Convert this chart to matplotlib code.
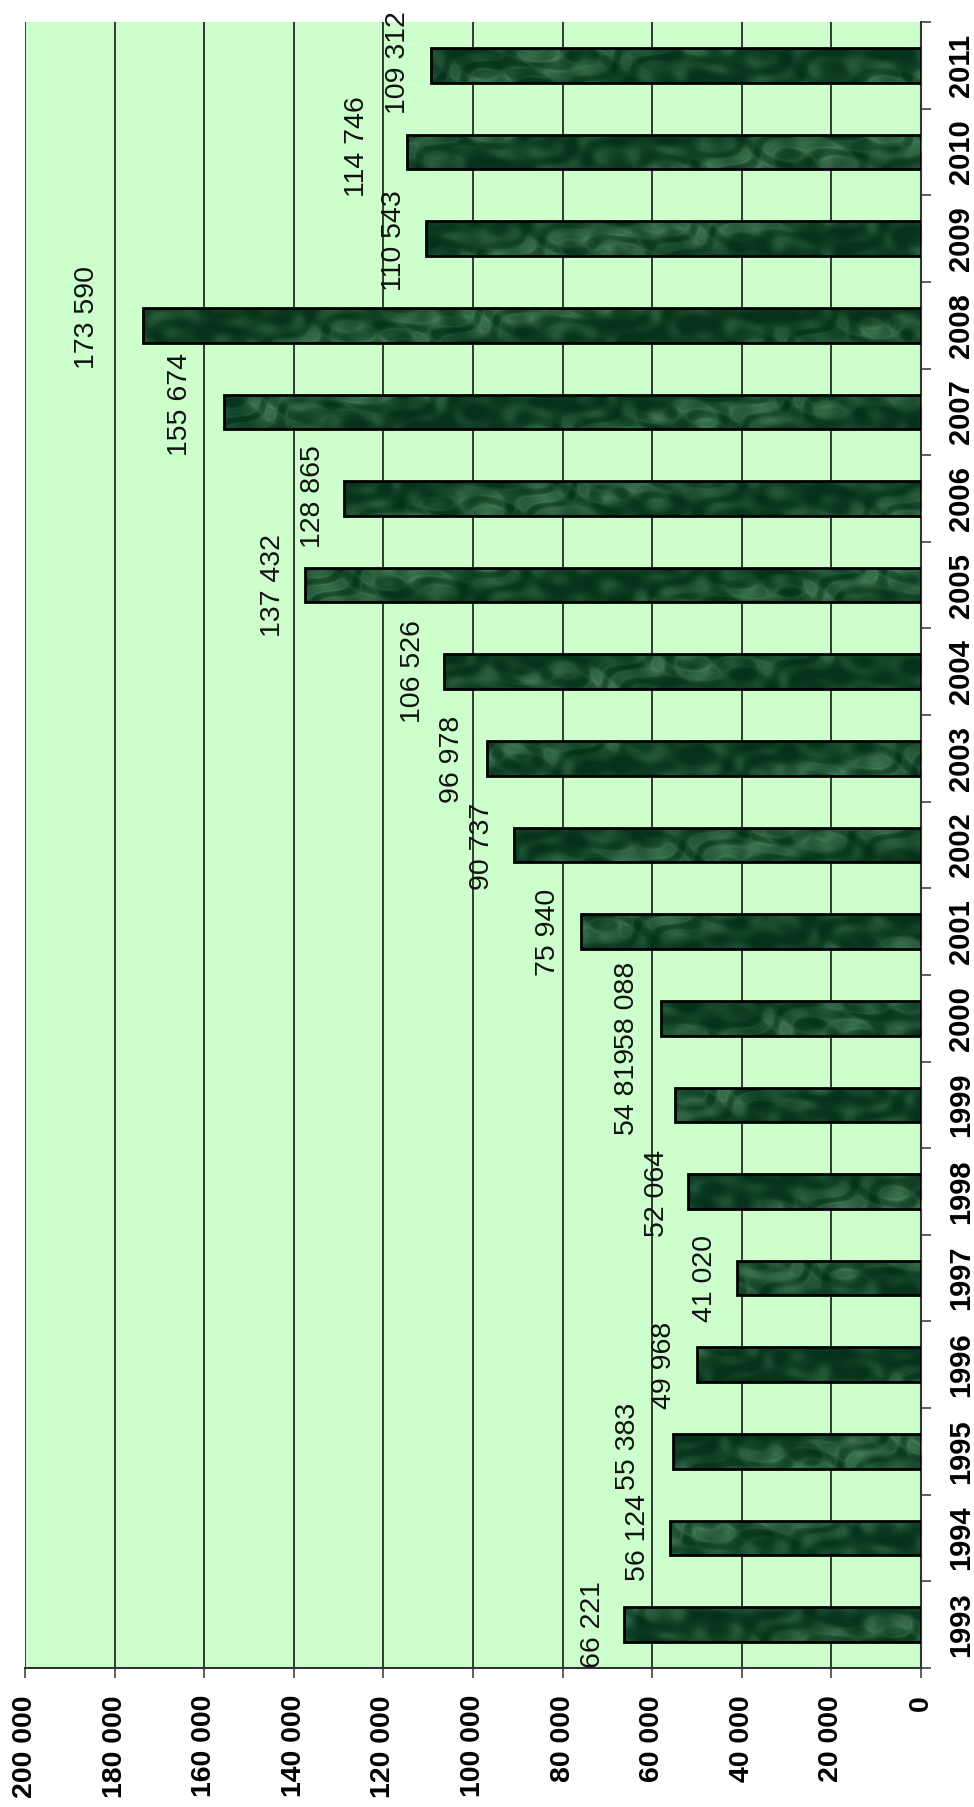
import numpy as np
import matplotlib
matplotlib.use("Agg")
import matplotlib.pyplot as plt
from matplotlib.ticker import FixedLocator, FuncFormatter

# ---- data -------------------------------------------------------------
years = ["1993", "1994", "1995", "1996", "1997", "1998", "1999", "2000", "2001",
         "2002", "2003", "2004", "2005", "2006", "2007", "2008", "2009", "2010", "2011"]
values = [66221, 56124, 55383, 49968, 41020, 52064, 54819, 58088, 75940,
          90737, 96978, 106526, 137432, 128865, 155674, 173590, 110543, 114746, 109312]
value_ticks = [0, 20000, 40000, 60000, 80000, 100000, 120000, 140000, 160000, 180000, 200000]

# label placement (pixels): distance of label centre beyond bar end, and vertical nudge
label_gap_px = [31, 32, 45, 33, 32, 31, 48, 34, 33, 32, 35, 31, 32, 31, 44, 56, 32, 50, 33]
label_dy_px = [0, 1, 5, -1, 0, -2, 13, 13, -1, -1, -1, 0, 0, 2, 7, 8, -2, 5, 3]

plt.rcParams['font.family'] = ['Liberation Sans', 'DejaVu Sans']

W, H = 974, 1807
fig = plt.figure(figsize=(W / 100, H / 100), dpi=100)
fig.patch.set_facecolor('white')
left, right, top, bottom = 25, 921, 22, 1668
ax = fig.add_axes([left / W, 1 - bottom / H, (right - left) / W, (bottom - top) / H])
ax.set_facecolor('#CCFFCC')

n = len(years)
ypos = np.arange(n)
bh = 0.40

# bars: base fill, marble-like texture, outline
bars = ax.barh(ypos, values, height=bh, color='#1d5432', edgecolor='none', zorder=3)

dark = np.array([0.02, 0.20, 0.10])
light = np.array([0.40, 0.64, 0.47])
for b, v, yc in zip(bars, values, ypos):
    nx = max(int(v / 200000 * 896), 2)
    ny = 35
    u = np.arange(nx)[None, :].astype(float)
    w = np.arange(ny)[:, None].astype(float) + yc * 35.0
    # layered, warped waves at several angles (deterministic marble look)
    warp = (3.0 * np.sin(u * 0.037 + w * 0.051) + 2.0 * np.sin(u * 0.071 - w * 0.093 + 1.3))
    a = np.sin((u * 0.083 + w * 0.121) + warp)
    bb = np.sin((u * 0.029 - w * 0.187) + 0.7 * warp + 2.1)
    c = np.sin((u * 0.151 + w * 0.043) - 0.5 * warp + 0.4)
    d = np.sin(u * 0.013 + w * 0.071 + 0.9)
    t = 0.32 + 0.13 * a + 0.11 * bb + 0.07 * c + 0.10 * d
    ridge = np.exp(-((a * bb) ** 2) * 6.0)
    t = t + 0.18 * ridge * (0.5 + 0.5 * d)
    t = np.clip(t, 0, 1) ** 1.8
    img = dark[None, None, :] * (1 - t[..., None]) + light[None, None, :] * t[..., None]
    im = ax.imshow(img, extent=[0, v, yc - bh / 2, yc + bh / 2], origin='lower',
                   aspect='auto', interpolation='bilinear', zorder=3.5)
    im.set_clip_path(b)

ax.barh(ypos, values, height=bh, fill=False, edgecolor='black', linewidth=2.0, zorder=4)

# axes limits
ax.set_xlim(200000, 0)
ax.set_ylim(-0.5, n - 0.5)
ax.set_aspect('auto')

# value axis (bottom)
ax.xaxis.set_major_locator(FixedLocator(value_ticks))
ax.xaxis.set_major_formatter(FuncFormatter(lambda x, p: f"{int(x):,}".replace(",", " ")))
ax.tick_params(axis='x', direction='out', length=7.5, width=1.1, color='#333333',
               pad=12, labelsize=20.5, labelrotation=90)
for lab in ax.get_xticklabels():
    lab.set_fontweight('bold')
ax.grid(axis='x', color='#1a1a1a', linewidth=1.2, zorder=1)
ax.set_axisbelow(True)

# category axis (right)
ax.yaxis.tick_right()
ax.yaxis.set_major_locator(FixedLocator(np.arange(-0.5, n, 1.0)))
ax.yaxis.set_major_formatter(FuncFormatter(lambda x, p: ""))
ax.yaxis.set_minor_locator(FixedLocator(ypos))
ax.yaxis.set_minor_formatter(FuncFormatter(lambda x, p: years[int(round(x))] if 0 <= round(x) < n else ""))
ax.tick_params(axis='y', which='major', direction='out', length=7.5, width=1.1, color='#333333')
ax.tick_params(axis='y', which='minor', length=0, pad=19, labelsize=21)
for lab in ax.yaxis.get_minorticklabels():
    lab.set_rotation(90)
    lab.set_fontweight('bold')
    lab.set_verticalalignment('center')

for s in ['top', 'left']:
    ax.spines[s].set_visible(False)
for s in ['right', 'bottom']:
    ax.spines[s].set_color('#333333')
    ax.spines[s].set_linewidth(1.5)

# value labels
for v, yc, g, dy in zip(values, ypos, label_gap_px, label_dy_px):
    ax.annotate(f"{v:,}".replace(",", " "), xy=(v, yc), xytext=(-g, dy),
                textcoords='offset pixels', rotation=90, ha='center', va='center',
                fontsize=20.5, color='#111111', zorder=5, annotation_clip=False)

fig.savefig("out.png", dpi=100, facecolor='white')
